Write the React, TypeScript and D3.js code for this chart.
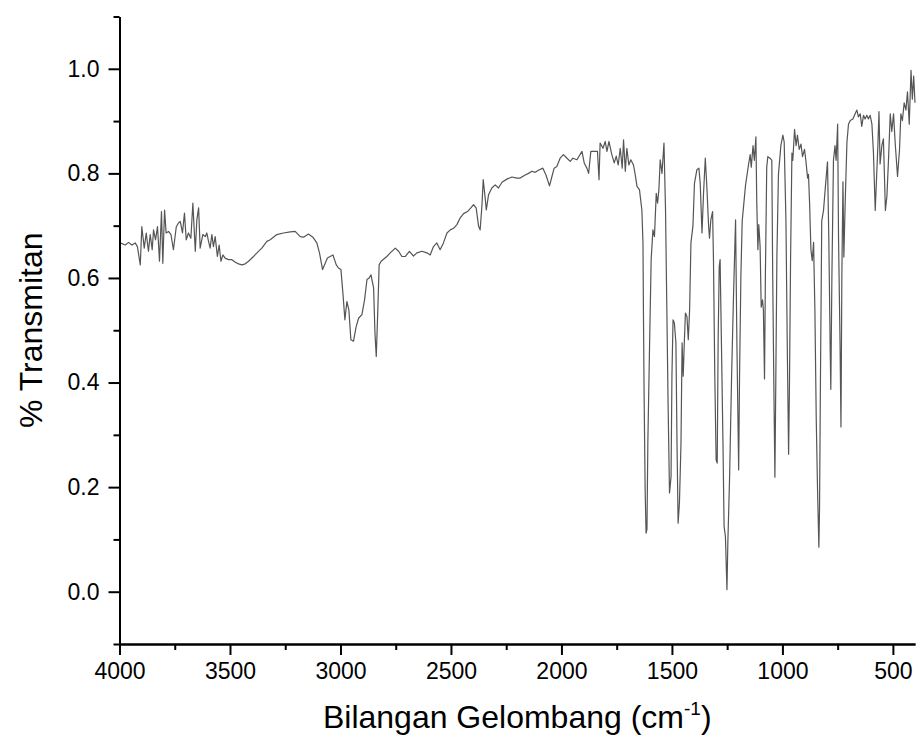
import { useRef, useEffect } from 'react';
import * as d3 from 'd3';

// [wavenumber cm-1, transmittance]
const ohNoiseBand: [number, number][] = [
  [3997, 0.667], [3974, 0.663], [3959, 0.668], [3944, 0.663], [3929, 0.667], [3919, 0.66],
  [3906, 0.625], [3899, 0.698], [3888, 0.657], [3879, 0.686], [3869, 0.651], [3861, 0.683],
  [3852, 0.654], [3846, 0.692], [3837, 0.673], [3828, 0.698], [3819, 0.632], [3810, 0.727],
  [3804, 0.628], [3796, 0.73], [3789, 0.686], [3778, 0.689], [3767, 0.683], [3756, 0.654],
  [3743, 0.698], [3733, 0.705], [3725, 0.708], [3715, 0.686], [3706, 0.724], [3698, 0.673],
  [3688, 0.686], [3677, 0.676], [3668, 0.743], [3657, 0.651], [3650, 0.711], [3642, 0.734],
  [3635, 0.657], [3623, 0.683], [3612, 0.679], [3605, 0.686], [3597, 0.67], [3590, 0.657],
  [3582, 0.683], [3575, 0.66], [3567, 0.679], [3557, 0.641], [3549, 0.663], [3541, 0.632],
  [3532, 0.644], [3522, 0.638], [3507, 0.635], [3491, 0.635], [3476, 0.63], [3461, 0.627],
  [3446, 0.625], [3431, 0.627], [3416, 0.632], [3396, 0.64], [3378, 0.648], [3356, 0.657],
  [3333, 0.67],
];

const chStretch: [number, number][] = [
  [3318, 0.673], [3288, 0.683], [3258, 0.686], [3227, 0.688], [3205, 0.689], [3182, 0.679],
  [3167, 0.678], [3145, 0.684], [3125, 0.678], [3107, 0.667], [3095, 0.648], [3081, 0.616],
  [3069, 0.628], [3059, 0.638], [3047, 0.641], [3034, 0.644], [3019, 0.625], [3009, 0.619],
  [2998, 0.616], [2989, 0.571], [2980, 0.52], [2971, 0.555], [2962, 0.539], [2953, 0.482],
  [2941, 0.479], [2929, 0.507], [2918, 0.523], [2903, 0.53], [2891, 0.558], [2880, 0.597],
  [2870, 0.6], [2862, 0.606], [2850, 0.581], [2844, 0.495], [2838, 0.45], [2831, 0.539],
  [2825, 0.625], [2816, 0.632],
];

const midRange: [number, number][] = [
  [2790, 0.641], [2775, 0.648], [2752, 0.657], [2737, 0.651], [2722, 0.641], [2707, 0.641],
  [2688, 0.651], [2670, 0.642], [2654, 0.648], [2631, 0.651], [2609, 0.648], [2594, 0.644],
  [2579, 0.66], [2564, 0.667], [2549, 0.654], [2534, 0.667], [2518, 0.686], [2503, 0.692],
  [2488, 0.695], [2473, 0.702], [2458, 0.715], [2443, 0.723], [2425, 0.727], [2410, 0.734],
  [2398, 0.74], [2386, 0.734], [2375, 0.699], [2368, 0.692], [2360, 0.737], [2354, 0.788],
  [2346, 0.756], [2340, 0.73], [2330, 0.759], [2315, 0.772], [2300, 0.778], [2285, 0.772],
  [2269, 0.783], [2247, 0.789], [2224, 0.793], [2202, 0.791], [2187, 0.791], [2164, 0.797],
  [2149, 0.8], [2134, 0.804], [2119, 0.802], [2104, 0.806], [2084, 0.81], [2070, 0.797],
  [2054, 0.776], [2043, 0.794], [2033, 0.81], [2021, 0.813], [2006, 0.829], [1991, 0.836],
  [1975, 0.829], [1960, 0.823], [1948, 0.829], [1930, 0.826], [1907, 0.842], [1897, 0.82],
  [1885, 0.81], [1877, 0.8], [1867, 0.842], [1847, 0.842], [1837, 0.842], [1830, 0.788],
  [1825, 0.858], [1812, 0.848], [1802, 0.861], [1794, 0.842], [1785, 0.861], [1772, 0.836],
  [1761, 0.82], [1752, 0.833], [1743, 0.816], [1734, 0.848], [1725, 0.81], [1719, 0.864],
  [1711, 0.804], [1704, 0.848], [1695, 0.816], [1686, 0.826], [1674, 0.816],
];

const fingerprintHigh: [number, number][] = [
  [1666, 0.797], [1658, 0.775], [1647, 0.769], [1636, 0.73], [1631, 0.667], [1629, 0.539],
  [1626, 0.38], [1621, 0.189], [1617, 0.112], [1613, 0.119], [1609, 0.284], [1601, 0.476],
  [1594, 0.635], [1586, 0.692], [1579, 0.679], [1571, 0.762], [1565, 0.743], [1559, 0.769],
  [1553, 0.826], [1545, 0.8], [1536, 0.858], [1529, 0.73], [1523, 0.539], [1517, 0.348],
  [1511, 0.189], [1504, 0.22], [1500, 0.412], [1495, 0.52], [1489, 0.514], [1482, 0.476],
  [1477, 0.284], [1472, 0.131], [1466, 0.17], [1459, 0.284], [1454, 0.476], [1449, 0.412],
  [1444, 0.476], [1439, 0.533], [1432, 0.526], [1426, 0.482], [1420, 0.539], [1414, 0.667],
  [1405, 0.699], [1398, 0.781], [1387, 0.807], [1378, 0.81], [1372, 0.781], [1364, 0.686],
  [1357, 0.762], [1349, 0.829], [1342, 0.775], [1334, 0.699], [1330, 0.676], [1324, 0.711],
  [1316, 0.727], [1312, 0.635], [1306, 0.412], [1300, 0.252], [1295, 0.246], [1291, 0.476],
  [1286, 0.622], [1282, 0.635], [1276, 0.476], [1269, 0.284], [1264, 0.125], [1258, 0.106],
  [1251, 0.004], [1247, 0.093], [1239, 0.22], [1230, 0.412], [1221, 0.571], [1212, 0.711],
  [1206, 0.476], [1198, 0.233], [1194, 0.412], [1188, 0.603],
];

const fingerprintLow: [number, number][] = [
  [1182, 0.709], [1167, 0.777], [1153, 0.818], [1146, 0.836], [1141, 0.812], [1133, 0.853],
  [1127, 0.825], [1120, 0.87], [1116, 0.743], [1111, 0.654], [1107, 0.702], [1101, 0.661],
  [1096, 0.544], [1090, 0.558], [1086, 0.538], [1081, 0.407], [1077, 0.606], [1071, 0.812],
  [1066, 0.832], [1056, 0.829], [1048, 0.825], [1044, 0.606], [1038, 0.366], [1034, 0.219],
  [1030, 0.4], [1025, 0.64], [1018, 0.798], [1007, 0.853], [998, 0.873], [992, 0.86],
  [984, 0.709], [978, 0.469], [972, 0.263], [968, 0.4], [963, 0.64], [957, 0.839],
  [953, 0.825], [945, 0.884], [938, 0.853], [932, 0.873], [924, 0.846], [916, 0.856],
  [909, 0.832], [900, 0.846], [894, 0.825], [886, 0.791], [882, 0.798], [877, 0.743],
  [871, 0.654], [865, 0.633], [859, 0.668], [853, 0.538], [847, 0.332], [841, 0.195],
  [835, 0.085], [832, 0.161], [828, 0.4], [822, 0.709], [814, 0.729], [805, 0.777],
  [796, 0.822], [790, 0.675], [784, 0.469], [781, 0.387], [776, 0.606], [769, 0.825],
  [762, 0.853], [757, 0.825], [750, 0.894], [746, 0.675], [739, 0.469], [735, 0.315],
  [731, 0.606], [726, 0.784], [722, 0.64], [716, 0.743], [708, 0.86], [701, 0.894],
  [693, 0.901], [681, 0.904], [671, 0.914], [663, 0.921], [656, 0.908], [648, 0.914],
  [641, 0.89], [633, 0.911], [626, 0.904], [618, 0.911], [611, 0.904], [603, 0.911],
  [595, 0.894], [588, 0.839], [580, 0.729], [574, 0.791], [568, 0.853], [563, 0.918],
  [558, 0.818], [550, 0.853], [543, 0.866], [538, 0.791], [534, 0.729], [527, 0.757],
  [520, 0.825], [512, 0.914], [505, 0.88], [497, 0.914], [490, 0.86], [479, 0.794],
  [470, 0.846], [464, 0.914], [457, 0.901], [449, 0.935], [441, 0.921], [434, 0.956],
  [426, 0.894], [418, 0.997], [412, 0.942], [406, 0.986], [400, 0.935],
];

const xMajorTicks = [4000, 3500, 3000, 2500, 2000, 1500, 1000, 500];
const xMinorTicks = [3750, 3250, 2750, 2250, 1750, 1250, 750];
const yMajorTicks = [0, 0.2, 0.4, 0.6, 0.8, 1.0];
const yMinorTicks = [-0.1, 0.1, 0.3, 0.5, 0.7, 0.9, 1.1];

const W = 918;
const H = 745;
const FONT = '"Liberation Sans", Arial, sans-serif';

export default function App() {
  const ref = useRef<SVGSVGElement>(null);

  useEffect(() => {
    const svg = d3.select(ref.current);
    svg.selectAll('*').remove();

    const m = { top: 16.5, right: 3, bottom: 101, left: 119.5 };
    const x = d3.scaleLinear().domain([4000, 400]).range([m.left, W - m.right]);
    const y = d3.scaleLinear().domain([-0.1, 1.1]).range([H - m.bottom, m.top]);

    const data = [...ohNoiseBand, ...chStretch, ...midRange, ...fingerprintHigh, ...fingerprintLow]
      .sort((a, b) => b[0] - a[0]);

    svg.append('path').datum(data)
      .attr('fill', 'none')
      .attr('stroke', '#555')
      .attr('stroke-width', 1.2)
      .attr('stroke-linejoin', 'round')
      .attr('d', d3.line<[number, number]>().x(d => x(d[0])).y(d => y(d[1])));

    const styleAxis = (s: any) => {
      s.select('.domain').attr('stroke', '#000').attr('stroke-width', 2);
      s.selectAll('.tick line').attr('stroke', '#000').attr('stroke-width', 2);
      s.selectAll('text').attr('fill', '#000').style('font-family', FONT).style('font-size', '23px');
    };

    // minor ticks first, majors on top
    svg.append('g').attr('transform', `translate(0,${y(-0.1)})`)
      .call(d3.axisBottom(x).tickValues(xMinorTicks).tickSize(6).tickSizeOuter(0).tickFormat(() => ''))
      .call(styleAxis);
    svg.append('g').attr('transform', `translate(0,${y(-0.1)})`)
      .call(d3.axisBottom(x).tickValues(xMajorTicks).tickSize(11).tickSizeOuter(0).tickPadding(8)
        .tickFormat(d3.format('d')))
      .call(styleAxis);

    svg.append('g').attr('transform', `translate(${x(4000)},0)`)
      .call(d3.axisLeft(y).tickValues(yMinorTicks).tickSize(6).tickSizeOuter(0).tickFormat(() => ''))
      .call(styleAxis);
    svg.append('g').attr('transform', `translate(${x(4000)},0)`)
      .call(d3.axisLeft(y).tickValues(yMajorTicks).tickSize(11).tickSizeOuter(0).tickPadding(9)
        .tickFormat(d3.format('.1f')))
      .call(styleAxis);

    // axis titles
    const xt = svg.append('text')
      .attr('x', (x(4000) + x(400)) / 2).attr('y', 728)
      .attr('text-anchor', 'middle')
      .style('font-family', FONT).style('font-size', '32px').attr('fill', '#000');
    xt.append('tspan').text('Bilangan Gelombang (cm');
    xt.append('tspan').attr('dy', -13).style('font-size', '19px').text('-1');
    xt.append('tspan').attr('dy', 13).text(')');

    svg.append('text')
      .attr('transform', `translate(42,${(y(-0.1) + y(1.1)) / 2}) rotate(-90)`)
      .attr('text-anchor', 'middle')
      .style('font-family', FONT).style('font-size', '32px').attr('fill', '#000')
      .text('% Transmitan');
  }, []);

  return (
    <svg ref={ref} width={W} height={H}
      style={{ position: 'fixed', left: 0, top: 0, background: '#fff' }} />
  );
}
